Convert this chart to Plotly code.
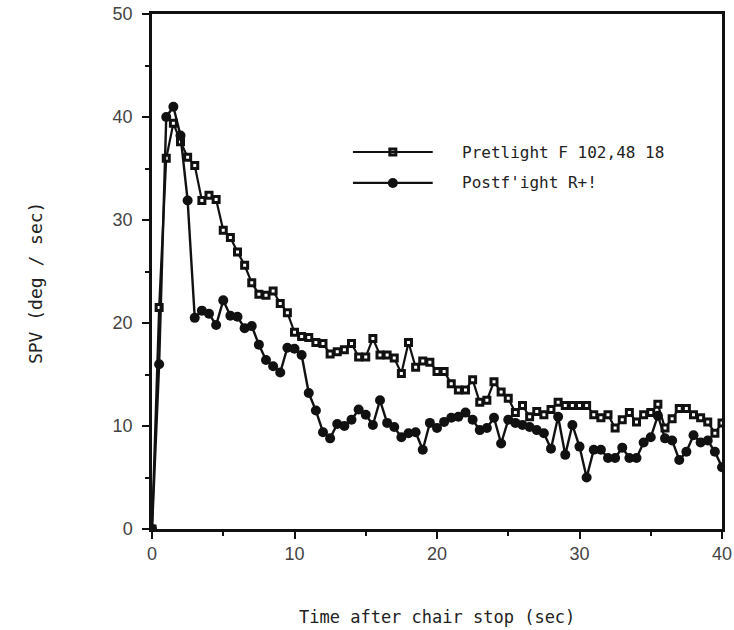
import plotly.graph_objects as go

# Time after chair stop (sec), sampled every 0.5 s
time_s = [
    0.0, 0.5, 1.0, 1.5, 2.0, 2.5, 3.0, 3.5, 4.0, 4.5,
    5.0, 5.5, 6.0, 6.5, 7.0, 7.5, 8.0, 8.5, 9.0, 9.5,
    10.0, 10.5, 11.0, 11.5, 12.0, 12.5, 13.0, 13.5, 14.0, 14.5,
    15.0, 15.5, 16.0, 16.5, 17.0, 17.5, 18.0, 18.5, 19.0, 19.5,
    20.0, 20.5, 21.0, 21.5, 22.0, 22.5, 23.0, 23.5, 24.0, 24.5,
    25.0, 25.5, 26.0, 26.5, 27.0, 27.5, 28.0, 28.5, 29.0, 29.5,
    30.0, 30.5, 31.0, 31.5, 32.0, 32.5, 33.0, 33.5, 34.0, 34.5,
    35.0, 35.5, 36.0, 36.5, 37.0, 37.5, 38.0, 38.5, 39.0, 39.5,
    40.0,
]

# Slow phase velocity (deg/sec), preflight session
preflight_spv = [
    0.0, 21.5, 36.0, 39.4, 37.6, 36.1, 35.3, 31.9, 32.4, 32.0,
    29.0, 28.3, 26.9, 25.6, 23.9, 22.8, 22.7, 23.1, 21.9, 21.0,
    19.1, 18.7, 18.6, 18.1, 18.0, 17.0, 17.2, 17.4, 18.0, 16.7,
    16.7, 18.5, 16.9, 16.9, 16.6, 15.1, 18.1, 15.7, 16.3, 16.2,
    15.3, 15.3, 14.1, 13.5, 13.5, 14.5, 12.3, 12.5, 14.3, 13.3,
    12.7, 11.3, 12.0, 10.9, 11.4, 11.1, 11.6, 12.3, 12.0, 12.0,
    12.0, 12.0, 11.1, 10.8, 11.1, 9.8, 10.6, 11.3, 10.4, 11.1,
    11.3, 12.1, 9.8, 10.7, 11.7, 11.7, 11.1, 10.8, 10.4, 9.3,
    10.3,
]

# Slow phase velocity (deg/sec), first postflight day
postflight_spv = [
    0.0, 16.0, 40.0, 41.0, 38.2, 31.9, 20.5, 21.2, 20.9, 19.8,
    22.2, 20.7, 20.6, 19.5, 19.7, 17.9, 16.4, 15.8, 15.2, 17.6,
    17.5, 16.9, 13.2, 11.5, 9.4, 8.8, 10.2, 10.0, 10.6, 11.6,
    11.1, 10.1, 12.5, 10.3, 9.9, 8.9, 9.3, 9.4, 7.7, 10.3,
    9.8, 10.4, 10.8, 10.9, 11.3, 10.6, 9.6, 9.8, 10.8, 8.3,
    10.6, 10.3, 10.1, 9.9, 9.6, 9.3, 7.8, 10.9, 7.2, 10.1,
    8.0, 5.0, 7.7, 7.7, 6.9, 6.9, 7.9, 6.9, 6.9, 8.4,
    8.9, 11.0, 8.8, 8.6, 6.7, 7.5, 9.1, 8.4, 8.6, 7.5,
    6.0,
]

series_names = ["Pretlight F 102,48 18", "Postf'ight R+!"]
x_ticks = [0, 10, 20, 30, 40]
y_ticks = [0, 10, 20, 30, 40, 50]

INK = "#111111"
square_marker = dict(symbol="square", size=6, color="white",
                     line=dict(color=INK, width=3))
dot_marker = dict(symbol="circle", size=10, color=INK, line=dict(width=0))

fig = go.Figure()

fig.add_trace(go.Scatter(
    x=time_s, y=preflight_spv, mode="lines+markers",
    line=dict(color=INK, width=2.2), marker=square_marker,
    name=series_names[0], showlegend=False,
))
fig.add_trace(go.Scatter(
    x=time_s, y=postflight_spv, mode="lines+markers",
    line=dict(color=INK, width=2.4), marker=dot_marker,
    name=series_names[1], showlegend=False,
))

# Hand-drawn key inside the plot: long sample line with the marker in the middle
key_x0, key_x1, key_mid, key_text_x = 14.1, 19.7, 16.9, 21.6
key_rows = [(36.6, square_marker, series_names[0]),
            (33.6, dot_marker, series_names[1])]
for ky, mk, label in key_rows:
    fig.add_shape(type="line", x0=key_x0, x1=key_x1, y0=ky, y1=ky,
                  xref="x", yref="y", line=dict(color=INK, width=2.2))
    fig.add_trace(go.Scatter(x=[key_mid], y=[ky], mode="markers",
                             marker=mk, showlegend=False, hoverinfo="skip"))
    fig.add_annotation(x=key_text_x, y=ky, xref="x", yref="y", text=label,
                       showarrow=False, xanchor="left", yanchor="middle",
                       font=dict(family="DejaVu Sans Mono", size=16, color="#222"))

axis_common = dict(
    showline=True, linecolor=INK, linewidth=2.5, mirror=True,
    showgrid=False, zeroline=False, automargin=False,
    ticklabeloverflow="allow",
    ticks="outside", ticklen=7, tickwidth=2, tickcolor=INK,
    tickfont=dict(family="Liberation Sans", size=18, color="#444"),
    minor=dict(ticks="outside", ticklen=4, tickwidth=2, tickcolor=INK, dtick=5),
)

fig.update_xaxes(range=[0, 40], tickvals=x_ticks, **axis_common)
fig.update_yaxes(range=[0, 50], tickvals=y_ticks, ticklabelstandoff=6, **axis_common)

fig.add_annotation(text="SPV (deg / sec)", xref="paper", yref="paper",
                   x=-0.203, y=0.478, textangle=-90, showarrow=False,
                   xanchor="center", yanchor="middle",
                   font=dict(family="DejaVu Sans Mono", size=18, color="#222"))
fig.add_annotation(text="Time after chair stop (sec)", xref="paper", yref="paper",
                   x=0.5, y=-0.171, showarrow=False,
                   xanchor="center", yanchor="middle",
                   font=dict(family="DejaVu Sans Mono", size=17, color="#222"))

fig.update_layout(
    width=734, height=630,
    margin=dict(l=152, r=12, t=14, b=101),
    plot_bgcolor="white", paper_bgcolor="white",
    showlegend=False,
)

fig.write_html("out.html")
